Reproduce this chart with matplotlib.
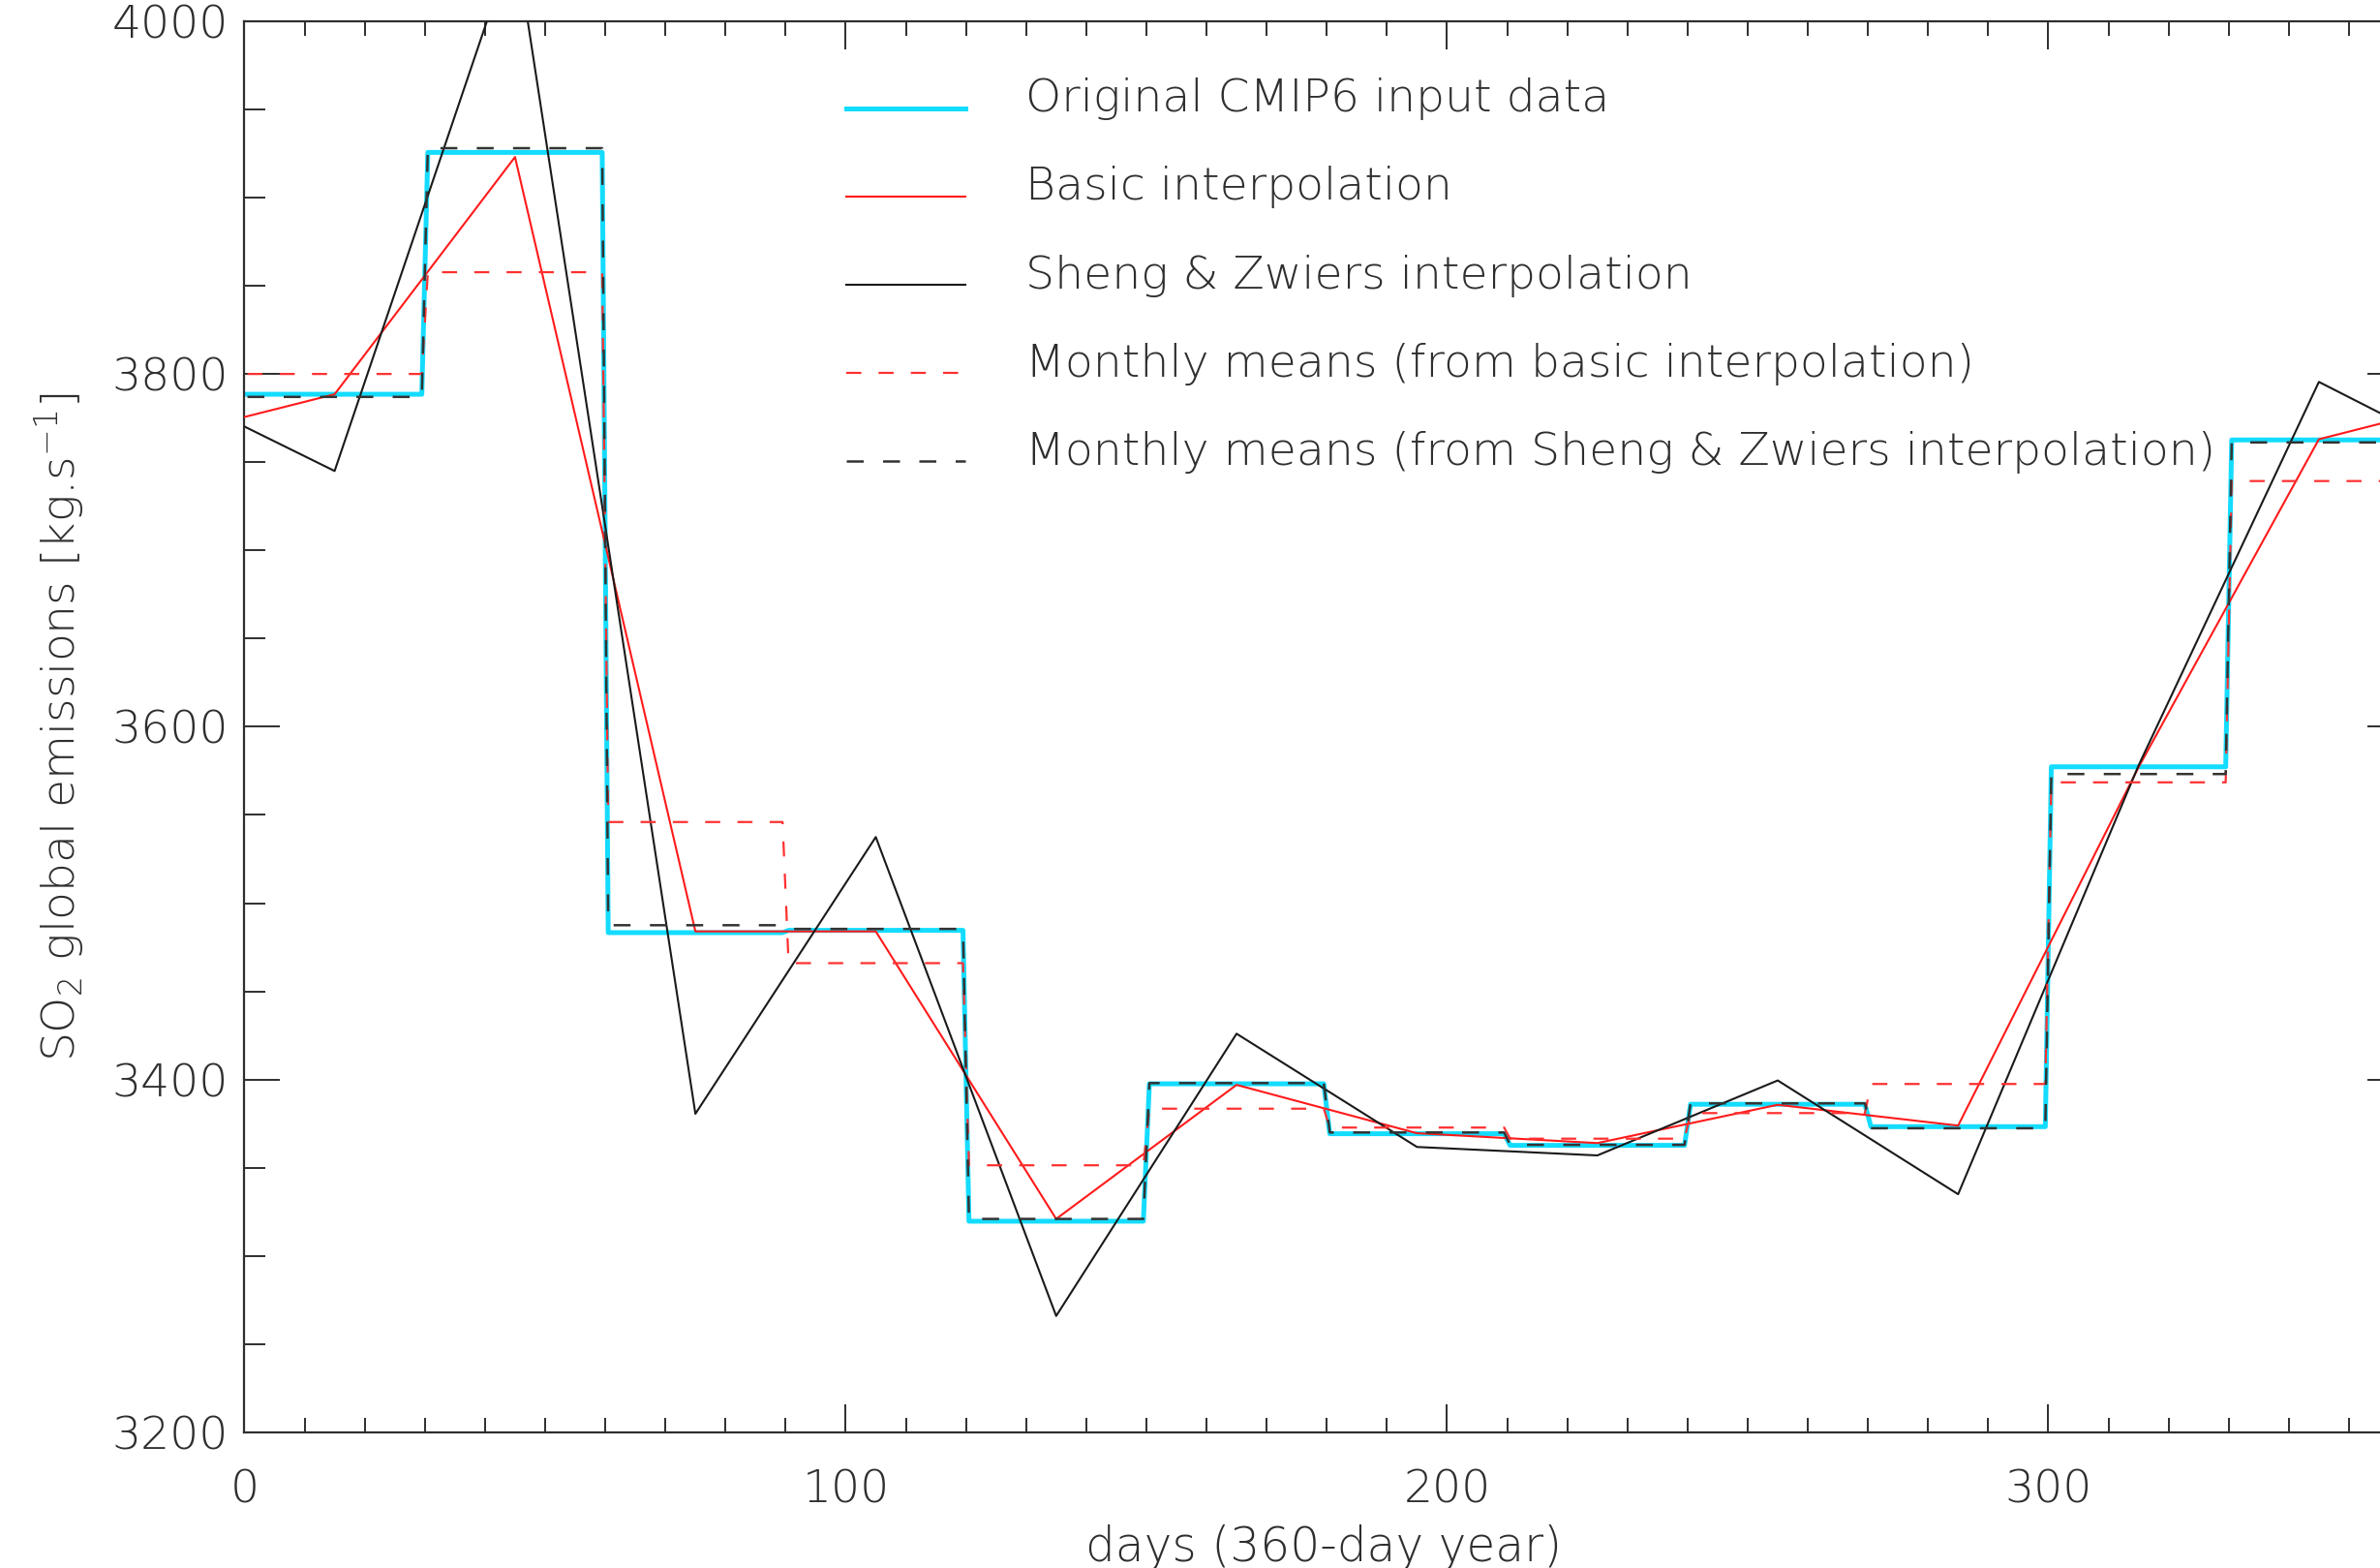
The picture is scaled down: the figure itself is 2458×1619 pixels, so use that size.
import numpy as np
import matplotlib
matplotlib.use("Agg")
import matplotlib.pyplot as plt
from matplotlib.ticker import MultipleLocator
from matplotlib.lines import Line2D
from matplotlib.legend_handler import HandlerLine2D

plt.rcParams['font.family'] = ['DejaVu Sans']
plt.rcParams['font.weight'] = 'light'
plt.rcParams['axes.labelweight'] = 'light'
plt.rcParams['mathtext.default'] = 'regular'

# ---------------- data ----------------
month_len = 30
# original CMIP6 monthly values
cmip6 = [3788.5, 3925.6, 3483.3, 3484.6, 3319.7, 3397.6,
         3369.3, 3362.7, 3386.0, 3373.3, 3577.3, 3762.6]
# monthly means from basic interpolation
basic_means = [3800.0, 3857.7, 3546.0, 3466.0, 3351.4, 3383.5,
               3372.8, 3366.5, 3381.0, 3397.5, 3568.5, 3739.3]
# monthly means from Sheng & Zwiers interpolation
sz_means = [3787.0, 3928.0, 3487.5, 3485.4, 3321.0, 3398.0,
            3370.0, 3363.0, 3386.5, 3372.4, 3573.2, 3761.2]
# interpolation nodes (days)
node_days = [0, 15, 45, 75, 105, 135, 165, 195, 225, 255, 285, 315, 345, 360]
basic_interp = [3775.6, 3788.5, 3923.0, 3484.0, 3484.0, 3321.0, 3397.0,
                3369.6, 3364.0, 3385.7, 3373.9, 3577.0, 3763.0, 3776.0]
sz_interp = [3770.2, 3745.0, 4047.0, 3380.6, 3537.5, 3266.0, 3426.0,
             3361.8, 3357.0, 3399.5, 3335.0, 3578.0, 3795.5, 3769.5]

labels = ["Original CMIP6 input data",
          "Basic interpolation",
          "Sheng & Zwiers interpolation",
          "Monthly means (from basic interpolation)",
          "Monthly means (from Sheng & Zwiers interpolation)"]

# daily representation of the monthly step series
days = np.arange(12 * month_len) + 0.5
cmip6_daily = np.repeat(cmip6, month_len)
basic_means_daily = np.repeat(basic_means, month_len)
sz_means_daily = np.repeat(sz_means, month_len)


class LowHandler(HandlerLine2D):
    """Legend line drawn near the text baseline (as in the original)."""
    def create_artists(self, legend, orig_handle, xdescent, ydescent,
                       width, height, fontsize, trans):
        return super().create_artists(legend, orig_handle, xdescent,
                                      ydescent + 0.55 * fontsize, width,
                                      height, fontsize, trans)


# ---------------- figure ----------------
W, H, DPI = 2458, 1619, 200
fig = plt.figure(figsize=(W / DPI, H / DPI), dpi=DPI)
ax = fig.add_axes([0.1027, 0.0865, 0.907, 0.900])

txt_col = '#2e2e2e'
FS = 17
ax.plot(days, cmip6_daily, color='#14dcff', lw=1.8, label=labels[0], zorder=2)
ax.plot(node_days, basic_interp, color='#ff1a1a', lw=0.75, label=labels[1], zorder=3)
ax.plot(node_days, sz_interp, color='#1a1a1a', lw=0.75, label=labels[2], zorder=4)
ax.plot(days, basic_means_daily, color='#ff3030', lw=0.8, dashes=(7, 8),
        label=labels[3], zorder=5)
ax.plot(days, sz_means_daily, color='#333333', lw=0.9, dashes=(7, 8),
        label=labels[4], zorder=6)

ax.set_xlim(0, 359)
ax.set_ylim(3200, 4000)
ax.xaxis.set_major_locator(MultipleLocator(100))
ax.xaxis.set_minor_locator(MultipleLocator(10))
ax.yaxis.set_major_locator(MultipleLocator(200))
ax.yaxis.set_minor_locator(MultipleLocator(50))

ax.tick_params(axis='both', which='both', direction='in', top=True, right=True,
               colors=txt_col, width=0.7, labelsize=FS)
ax.tick_params(axis='x', which='major', length=10.4, pad=13.5)
ax.tick_params(axis='x', which='minor', length=5.4)
ax.tick_params(axis='y', which='major', length=13.3, pad=6)
ax.tick_params(axis='y', which='minor', length=8)
for s in ax.spines.values():
    s.set_linewidth(0.8)
    s.set_color(txt_col)

ax.set_xlabel("days (360-day year)", fontsize=FS + 0.5, color=txt_col)
ax.xaxis.set_label_coords(0.5, -0.065)
fig.text(0.025, 0.5365, "SO$_2$ global emissions [kg.s$^{-1}$]", rotation=90,
         ha='center', va='center', fontsize=FS, color=txt_col)

leg = ax.legend(loc='upper left', bbox_to_anchor=(0.279, 0.960), frameon=False,
                fontsize=FS, handlelength=2.6, handletextpad=1.3,
                labelspacing=1.0, borderpad=0, borderaxespad=0,
                handler_map={Line2D: LowHandler()})
for t in leg.get_texts():
    t.set_color(txt_col)

fig.savefig("out.png", dpi=DPI)
